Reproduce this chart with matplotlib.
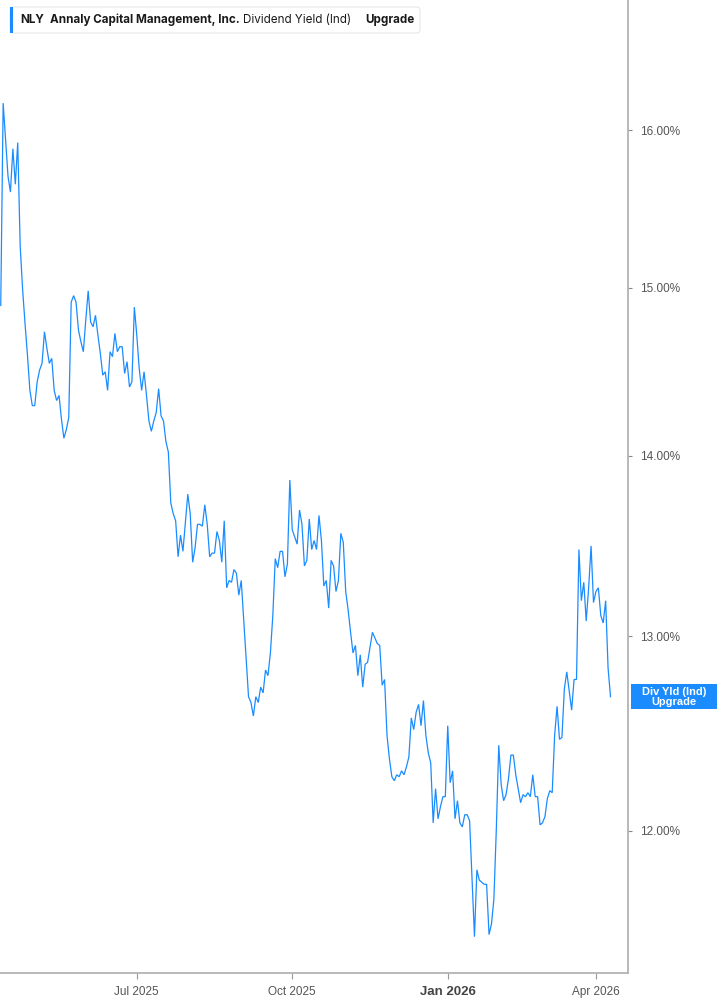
import matplotlib
matplotlib.use("Agg")
import matplotlib.pyplot as plt
import numpy as np
import pandas as pd
from matplotlib.patches import FancyBboxPatch, Rectangle
from matplotlib.ticker import FixedLocator, FuncFormatter, NullLocator

# NLY indicated dividend yield (%), one value per trading day from 2025-04-09
START = "2025-04-09"
HOLIDAYS = [
    "2025-04-18", "2025-05-26", "2025-06-19", "2025-07-04", "2025-09-01",
    "2025-11-27", "2025-12-25", "2026-01-01", "2026-01-19", "2026-02-16",
    "2026-04-03",
]
YIELD_PCT = [
    14.89, 16.18, 15.94, 15.70, 15.60, 15.88, 15.65, 15.92, 15.26, 14.99,
    14.78, 14.59, 14.38, 14.29, 14.29, 14.43, 14.50, 14.54, 14.73, 14.63,
    14.54, 14.57, 14.38, 14.32, 14.35, 14.21, 14.10, 14.15, 14.22, 14.91,
    14.95, 14.91, 14.74, 14.67, 14.61, 14.80, 14.98, 14.79, 14.76, 14.83,
    14.71, 14.60, 14.47, 14.49, 14.38, 14.61, 14.58, 14.72, 14.61, 14.64,
    14.64, 14.48, 14.55, 14.40, 14.43, 14.88, 14.71, 14.51, 14.38, 14.49,
    14.35, 14.20, 14.14, 14.20, 14.25, 14.39, 14.23, 14.20, 14.08, 14.02,
    13.73, 13.67, 13.63, 13.43, 13.55, 13.46, 13.62, 13.78, 13.67, 13.40,
    13.48, 13.61, 13.61, 13.60, 13.72, 13.61, 13.43, 13.45, 13.45, 13.57,
    13.52, 13.40, 13.63, 13.26, 13.30, 13.29, 13.36, 13.34, 13.22, 13.30,
    13.09, 12.88, 12.68, 12.65, 12.58, 12.68, 12.65, 12.73, 12.70, 12.82,
    12.79, 12.91, 13.11, 13.42, 13.37, 13.46, 13.46, 13.32, 13.39, 13.86,
    13.58, 13.54, 13.50, 13.69, 13.61, 13.38, 13.41, 13.64, 13.47, 13.52,
    13.47, 13.66, 13.52, 13.27, 13.30, 13.15, 13.41, 13.38, 13.24, 13.30,
    13.56, 13.51, 13.24, 13.14, 13.02, 12.91, 12.95, 12.79, 12.90, 12.73,
    12.85, 12.86, 12.94, 13.02, 12.99, 12.96, 12.95, 12.74, 12.77, 12.48,
    12.36, 12.27, 12.25, 12.28, 12.27, 12.30, 12.28, 12.32, 12.37, 12.57,
    12.51, 12.60, 12.64, 12.53, 12.66, 12.48, 12.39, 12.34, 12.04, 12.21,
    12.06, 12.12, 12.17, 12.17, 12.53, 12.24, 12.30, 12.06, 12.15, 12.04,
    12.02, 12.08, 12.08, 12.05, 11.77, 11.49, 11.81, 11.76, 11.75, 11.74,
    11.74, 11.50, 11.55, 11.67, 12.01, 12.43, 12.23, 12.15, 12.18, 12.26,
    12.38, 12.38, 12.28, 12.21, 12.14, 12.18, 12.17, 12.19, 12.17, 12.28,
    12.17, 12.17, 12.03, 12.04, 12.07, 12.16, 12.20, 12.19, 12.48, 12.63,
    12.46, 12.47, 12.72, 12.81, 12.71, 12.61, 12.77, 12.77, 13.47, 13.19,
    13.29, 13.08, 13.26, 13.49, 13.18, 13.24, 13.26, 13.11, 13.07, 13.19,
    12.83, 12.68,
]
Y_TICKS = [12, 13, 14, 15, 16]
X_TICK_MONTHS = ["2025-07-01", "2025-10-01", "2026-01-01", "2026-04-01"]
X_TICK_LABELS = ["Jul 2025", "Oct 2025", "Jan 2026", "Apr 2026"]

BLUE = "#1a8cff"
W, H = 717, 1005

dates = pd.bdate_range(START, periods=len(YIELD_PCT), freq="C", holidays=HOLIDAYS)
pos = np.arange(len(dates))
tick_pos = [int(np.argmax(dates >= pd.Timestamp(m))) for m in X_TICK_MONTHS]

fig = plt.figure(figsize=(W / 100, H / 100), dpi=100)
fig.patch.set_facecolor("white")
ax = fig.add_axes([0, 32 / H, 628 / W, 973 / H])

ax.plot(pos, YIELD_PCT, color=BLUE, lw=0.9, solid_joinstyle="miter")

ax.set_yscale("log")
ax.set_ylim(11.32, 16.88)
ax.set_xlim(-0.3, 258.2)
ax.yaxis.set_major_locator(FixedLocator(Y_TICKS))
ax.yaxis.set_minor_locator(NullLocator())
ax.yaxis.set_major_formatter(FuncFormatter(lambda v, _: f"{v:.2f}%"))
ax.yaxis.tick_right()
ax.tick_params(axis="y", direction="out", length=3, color="#888888",
               labelsize=8.5, labelcolor="#555555", pad=6)
for lab in ax.get_yticklabels():
    lab.set_family("Liberation Sans")

ax.set_xticks(tick_pos)
ax.set_xticklabels(X_TICK_LABELS, family="Liberation Sans")
ax.tick_params(axis="x", direction="out", length=4, color="#999999",
               labelsize=8.5, labelcolor="#555555", pad=5)
jan = ax.get_xticklabels()[2]
jan.set_fontweight("bold")
jan.set_fontsize(9.5)
jan.set_color("#444444")

for side in ("left", "top"):
    ax.spines[side].set_visible(False)
for side in ("right", "bottom"):
    ax.spines[side].set_color("#b3b3b3")
    ax.spines[side].set_linewidth(1.3)

# header legend
box = FancyBboxPatch((10 / W, 1 - 33 / H), 410 / W, 26 / H,
                     boxstyle="round,pad=0,rounding_size=0.004",
                     transform=fig.transFigure, facecolor="white",
                     edgecolor="#e6e6e6", linewidth=0.8, zorder=5)
fig.patches.append(box)
fig.patches.append(Rectangle((10 / W, 1 - 33 / H), 3 / W, 26 / H,
                             transform=fig.transFigure, facecolor=BLUE,
                             edgecolor="none", zorder=6))
hy = 1 - 20 / H
for x, txt, wt in [(20, "NLY", "bold"),
                   (50, "Annaly Capital Management, Inc.", "bold"),
                   (243, "Dividend Yield (Ind)", "normal"),
                   (365, "Upgrade", "bold")]:
    fig.text(x / W, hy, txt, ha="left", va="center", fontsize=8.4,
             fontweight=wt, family="Inter", color="#1a1a1a", zorder=7)

# last value label on the right
fig.canvas.draw()
y_disp = ax.transData.transform((0, YIELD_PCT[-1]))[1]
yc = y_disp / H
fig.patches.append(Rectangle((631 / W, yc - 12.5 / H), 86 / W, 25 / H,
                             transform=fig.transFigure, facecolor=BLUE,
                             edgecolor="none", zorder=6))
fig.text(674 / W, yc, "Div Yld (Ind)\nUpgrade", ha="center", va="center",
         fontsize=7.9, fontweight="bold", color="white", family="Liberation Sans",
         linespacing=1.05, zorder=7)

fig.savefig("out.png", dpi=100, facecolor="white")
